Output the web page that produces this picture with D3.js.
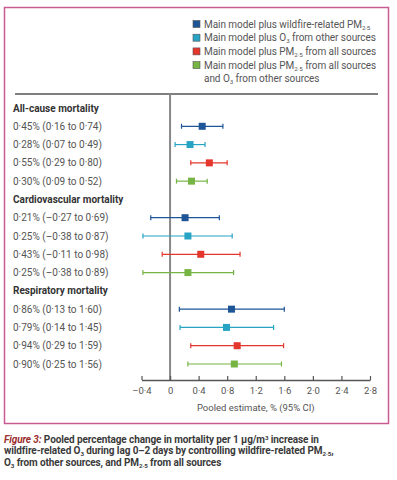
<!DOCTYPE html>
<html>
<head>
<meta charset="utf-8">
<script src="https://cdn.jsdelivr.net/npm/d3@7"></script>
<style>
  body { margin: 0; background: #fff; }
  svg { display: block; }
</style>
</head>
<body>
<svg width="397" height="480"></svg>
<script>
const width = 397;
const height = 480;

// legend entries, _{..} marks a subscript
const models = [
  'Main model plus wildfire-related PM_{2·5}',
  'Main model plus O_{3} from other sources',
  'Main model plus PM_{2·5} from all sources',
  'Main model plus PM_{2·5} from all sources|and O_{3} from other sources'
];
const colors = ['#1d5597', '#27a3c4', '#e5362d', '#76b443'];

const groups = ['All-cause mortality', 'Cardiovascular mortality', 'Respiratory mortality'];
const estimate = [[0.45, 0.28, 0.55, 0.30], [0.21, 0.25, 0.43, 0.25], [0.86, 0.79, 0.94, 0.90]];
const lower = [[0.16, 0.07, 0.29, 0.09], [-0.27, -0.38, -0.11, -0.38], [0.13, 0.14, 0.29, 0.25]];
const upper = [[0.74, 0.49, 0.80, 0.52], [0.69, 0.87, 0.98, 0.89], [1.60, 1.45, 1.59, 1.56]];

const ticks = [-0.4, 0, 0.4, 0.8, 1.2, 1.6, 2.0, 2.4, 2.8];
const axisTitle = 'Pooled estimate, % (95% CI)';
const caption = [
  ['Figure 3: ', 'Pooled percentage change in mortality per 1 μg/m^{3} increase in'],
  ['', 'wildfire-related O_{3} during lag 0–2 days by controlling wildfire-related PM_{2·5},'],
  ['', 'O_{3} from other sources, and PM_{2·5} from all sources']
];

const font = 'Roboto, sans-serif';

const fmt = v => (v < 0 ? '–' : '') + Math.abs(v).toFixed(2).replace('.', '·');
const tickFmt = v => v === 0 ? '0' : (v < 0 ? '–' : '') + Math.abs(v).toFixed(1).replace('.', '·');

// flatten to rows: header rows then model rows
const rows = [];
groups.forEach((g, gi) => {
  rows.push({type: 'header', label: g});
  models.forEach((m, mi) => rows.push({
    type: 'row', gi, mi,
    est: estimate[gi][mi], lo: lower[gi][mi], hi: upper[gi][mi]
  }));
});

const x = d3.scaleLinear().domain([-0.4, 2.8]).range([141.5, 370]);
const y = d3.scalePoint().domain(d3.range(rows.length)).range([108, 364]);

const svg = d3.select('svg');

// writes text with _{..} subscripts / ^{..} superscripts
function richText(sel, str) {
  const parts = str.split(/([_^]\{[^}]*\})/).filter(s => s.length);
  parts.forEach(p => {
    if (p[1] === '{' && (p[0] === '_' || p[0] === '^')) {
      sel.append('tspan')
          .attr('font-size', '0.62em')
          .attr('baseline-shift', p[0] === '_' ? '-30%' : '45%')
          .text(p.slice(2, -1));
    } else {
      sel.append('tspan').text(p);
    }
  });
}

// frame
svg.append('rect')
    .attr('x', 4.5).attr('y', 7.5)
    .attr('width', 384).attr('height', 416)
    .attr('fill', 'none')
    .attr('stroke', '#c95b93')
    .attr('stroke-width', 1.5);

// legend
const legend = svg.append('g')
    .attr('font-family', font).attr('font-size', 10)
    .attr('letter-spacing', -0.05).attr('fill', '#555');
let ly = 24;
models.forEach((m, i) => {
  legend.append('rect')
      .attr('x', 193).attr('y', ly - 3.5)
      .attr('width', 7).attr('height', 7)
      .attr('fill', colors[i])
      .attr('stroke', '#555').attr('stroke-width', 0.6);
  m.split('|').forEach(line => {
    const t = legend.append('text').attr('x', 204).attr('y', ly).attr('dy', '0.35em');
    richText(t, line);
    ly += 13.7;
  });
});

// top rule
svg.append('line')
    .attr('x1', 15).attr('x2', 378)
    .attr('y1', 94).attr('y2', 94)
    .attr('stroke', '#555').attr('stroke-width', 1.5);

// zero line
svg.append('line')
    .attr('x1', x(0)).attr('x2', x(0))
    .attr('y1', 94).attr('y2', 380)
    .attr('stroke', '#888').attr('stroke-width', 2);

// row labels
svg.append('g')
    .attr('font-family', font)
    .attr('font-size', 10)
    .selectAll('text')
    .data(rows)
    .join('text')
    .attr('x', 13)
    .attr('y', (d, i) => y(i))
    .attr('dy', '0.35em')
    .attr('font-weight', d => d.type === 'header' ? 'bold' : 'normal')
    .attr('fill', d => d.type === 'header' ? '#333' : '#555')
    .text(d => d.type === 'header' ? d.label
        : `${fmt(d.est)}% (${fmt(d.lo)} to ${fmt(d.hi)})`);

// error bars
const data = rows.map((d, i) => ({...d, i})).filter(d => d.type === 'row');
const bars = svg.append('g')
    .selectAll('g')
    .data(data)
    .join('g')
    .attr('stroke', d => colors[d.mi])
    .attr('stroke-width', 1.2);

bars.append('line')
    .attr('x1', d => x(d.lo)).attr('x2', d => x(d.hi))
    .attr('y1', d => y(d.i)).attr('y2', d => y(d.i));
bars.append('line')
    .attr('x1', d => x(d.lo)).attr('x2', d => x(d.lo))
    .attr('y1', d => y(d.i) - 2.5).attr('y2', d => y(d.i) + 2.5);
bars.append('line')
    .attr('x1', d => x(d.hi)).attr('x2', d => x(d.hi))
    .attr('y1', d => y(d.i) - 2.5).attr('y2', d => y(d.i) + 2.5);
bars.append('rect')
    .attr('x', d => x(d.est) - 3.5).attr('y', d => y(d.i) - 3.5)
    .attr('width', 7).attr('height', 7)
    .attr('fill', d => colors[d.mi])
    .attr('stroke', 'none');

// x axis
const xAxis = g => g.attr('transform', 'translate(0,380)')
    .call(d3.axisBottom(x).tickValues(ticks).tickFormat(tickFmt)
        .tickSizeInner(-4).tickSizeOuter(0).tickPadding(7))
    .call(g => g.select('.domain').attr('stroke', '#555').attr('stroke-width', 1.5))
    .call(g => g.selectAll('.tick line').attr('stroke', '#555').attr('stroke-width', 1.2))
    .call(g => g.selectAll('.tick text')
        .attr('fill', '#555').attr('font-family', font).attr('font-size', 9.5));
svg.append('g').call(xAxis);

svg.append('text')
    .attr('x', (x(-0.4) + x(2.8)) / 2)
    .attr('y', 408)
    .attr('dy', '0.35em')
    .attr('text-anchor', 'middle')
    .attr('font-family', font)
    .attr('font-size', 9.5)
    .attr('fill', '#555')
    .text(axisTitle);

// caption
caption.forEach(([lead, rest], i) => {
  const t = svg.append('text')
      .attr('x', 4)
      .attr('y', 439 + i * 11.7)
      .attr('dy', '0.35em')
      .attr('font-family', font)
      .attr('font-size', 10)
      .attr('letter-spacing', -0.1)
      .attr('font-weight', 'bold')
      .attr('fill', '#3a3a3a');
  if (lead) t.append('tspan').attr('font-style', 'italic').attr('fill', '#9b2d2d').text(lead);
  richText(t, rest);
});
</script>
</body>
</html>
